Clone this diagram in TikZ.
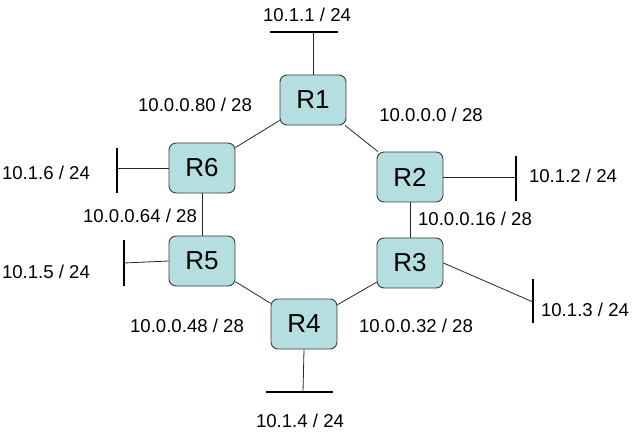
\documentclass[tikz,border=0pt]{standalone}
\usepackage{fontspec}
\setmainfont{Liberation Sans}
\definecolor{rfill}{RGB}{180,222,224}
\definecolor{rdraw}{RGB}{60,60,60}
\tikzset{
  router/.style={draw=rdraw, fill=rfill, rounded corners=7pt, line width=0.9pt,
    minimum width=66pt, minimum height=50pt, inner sep=0pt, font=\fontsize{26}{28}\selectfont},
  lbl/.style={inner sep=0pt, anchor=base, font=\fontsize{18.6}{21}\selectfont},
  link/.style={draw=black!85, line width=0.8pt},
  bar/.style={draw=black, line width=2pt}
}
\begin{document}
\begin{tikzpicture}[x=1pt,y=-1pt]
\useasboundingbox (0,0) rectangle (634,438);
% routers
\node[router] (R1) at (313,100) {R1};
\node[router] (R2) at (410,177) {R2};
\node[router] (R3) at (410,263) {R3};
\node[router] (R4) at (304,324) {R4};
\node[router] (R5) at (202,261) {R5};
\node[router] (R6) at (202,168) {R6};
% ring links
\draw[link] (R1) -- (R2);
\draw[link] (R2) -- (R3);
\draw[link] (R3) -- (R4);
\draw[link] (R4) -- (R5);
\draw[link] (R5) -- (R6);
\draw[link] (R6) -- (R1);
% stub networks
\coordinate (b1a) at (270,32); \coordinate (b1b) at (338,32); \coordinate (b1m) at (313,32);
\draw[bar] (b1a) -- (b1b);
\draw[link] (R1.north) -- (b1m);
\coordinate (b2a) at (516,156); \coordinate (b2b) at (516,201); \coordinate (b2m) at (516,177);
\draw[bar] (b2a) -- (b2b);
\draw[link] (R2.east) -- (b2m);
\coordinate (b3a) at (533,279); \coordinate (b3b) at (533,323); \coordinate (b3m) at (533,302);
\draw[bar] (b3a) -- (b3b);
\draw[link] (R3.east) -- (b3m);
\coordinate (b4a) at (266,392); \coordinate (b4b) at (333,392); \coordinate (b4m) at (303,392);
\draw[bar] (b4a) -- (b4b);
\draw[link] (R4.south) -- (b4m);
\coordinate (b5a) at (124,240); \coordinate (b5b) at (124,286); \coordinate (b5m) at (124,263);
\draw[bar] (b5a) -- (b5b);
\draw[link] (R5.west) -- (b5m);
\coordinate (b6a) at (117,148); \coordinate (b6b) at (117,193); \coordinate (b6m) at (117,168);
\draw[bar] (b6a) -- (b6b);
\draw[link] (R6.west) -- (b6m);
% labels
\node[lbl] (t11) at (307,22) {10.1.1 / 24};
\node[lbl] (t12) at (573,183) {10.1.2 / 24};
\node[lbl] (t13) at (585,316) {10.1.3 / 24};
\node[lbl] (t14) at (300,427) {10.1.4 / 24};
\node[lbl] (t15) at (46,279) {10.1.5 / 24};
\node[lbl] (t16) at (46,180) {10.1.6 / 24};
\node[lbl] (t00) at (431,122) {10.0.0.0 / 28};
\node[lbl] (t16b) at (475,226) {10.0.0.16 / 28};
\node[lbl] (t32) at (416,332) {10.0.0.32 / 28};
\node[lbl] (t48) at (187,332) {10.0.0.48 / 28};
\node[lbl] (t64) at (140,223) {10.0.0.64 / 28};
\node[lbl] (t80) at (195,112) {10.0.0.80 / 28};
\end{tikzpicture}
\end{document}
